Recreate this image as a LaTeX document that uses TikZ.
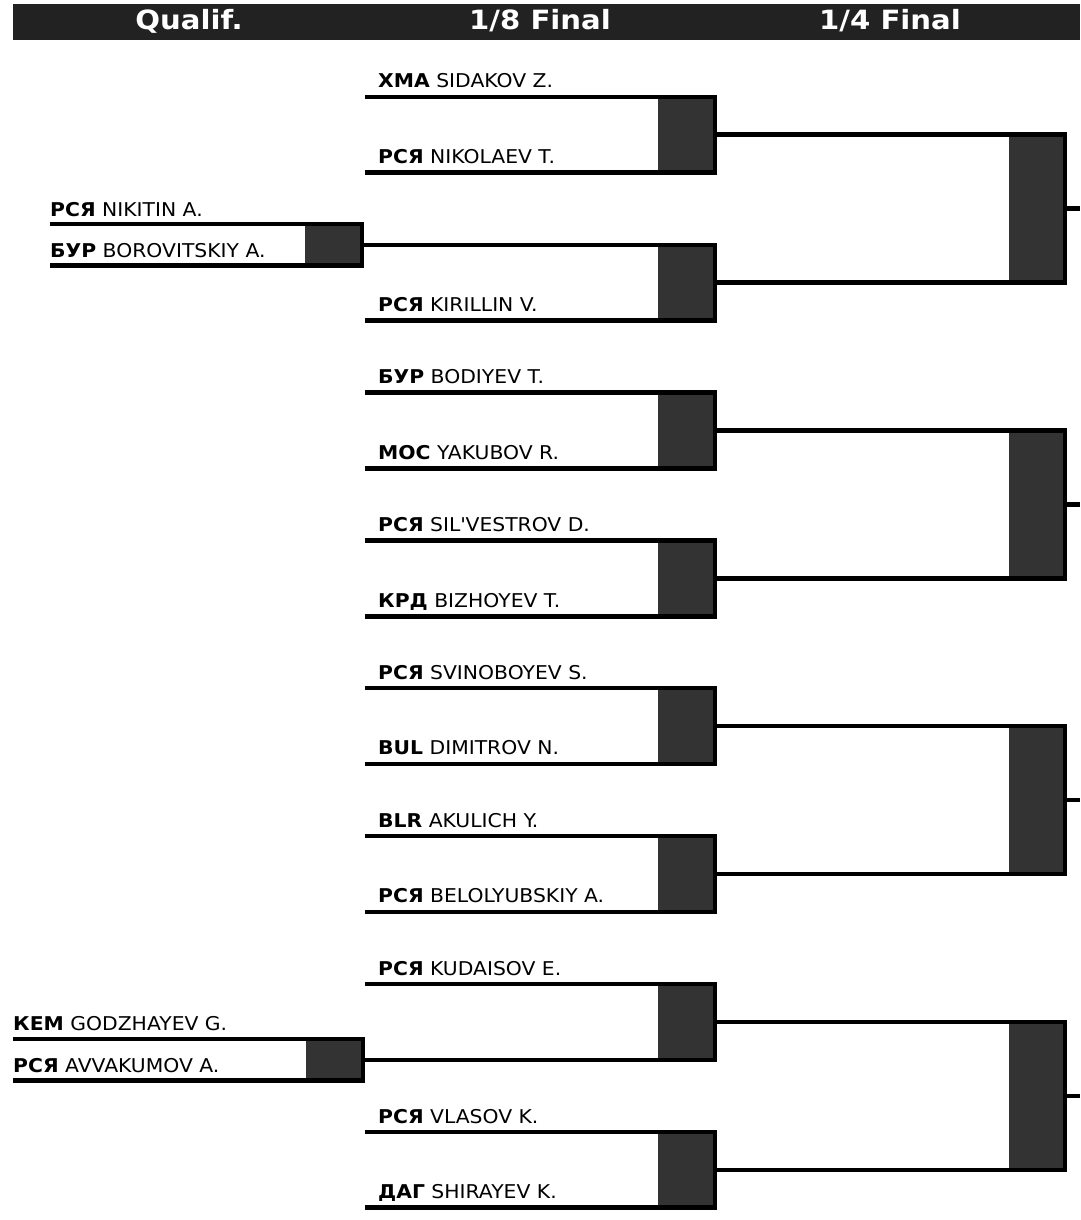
\documentclass[tikz,border=0pt]{standalone}
\usepackage{fontspec}
\newfontfamily\brfont{DejaVu Sans}[FakeStretch=1.07]
\newfontfamily\hdfont{DejaVu Sans}[FakeStretch=1.1]
\definecolor{barcol}{HTML}{222222}
\definecolor{boxcol}{HTML}{333333}

\begin{document}
\begin{tikzpicture}[x=1pt,y=-1pt,
bar/.style={fill=barcol,inner sep=0,minimum width=1067pt,minimum height=36pt},
hdr/.style={anchor=base,inner sep=0,text=white,font=\hdfont\bfseries\fontsize{26.5}{26.5}\selectfont},
nm/.style={anchor=base west,inner sep=0,font=\brfont\fontsize{19}{19}\selectfont},
mbox/.style={fill=boxcol,inner sep=0,minimum width=57pt,minimum height=75.5pt},
kbox/.style={fill=boxcol,inner sep=0,minimum width=56pt,minimum height=147.86pt},
qbox/.style={fill=boxcol,inner sep=0,minimum width=57pt,minimum height=41pt},
br/.style={line width=4.5pt}]
\useasboundingbox (0,0) rectangle (1080,1220);
% header
\node[bar] (hbar) at (546.5,22) {};
\node[hdr] (hq) at (189,30) {Qualif.};
\node[hdr] (h8) at (540,30) {1/8 Final};
\node[hdr] (h4) at (890,30) {1/4 Final};
\coordinate (cq1) at (50,0);
\coordinate (cq2) at (13,0);
\coordinate (c8) at (365,0);
\coordinate (c4) at (1080,0);
% boxes
\node[qbox] (ql1) at (333.5,244.85) {};
\node[qbox] (ql2) at (334.5,1059.7) {};
\node[mbox] (e1) at (686.5,134.75) {};
\node[mbox] (e2) at (686.5,282.6) {};
\node[mbox] (e3) at (686.5,430.45) {};
\node[mbox] (e4) at (686.5,578.35) {};
\node[mbox] (e5) at (686.5,726.15) {};
\node[mbox] (e6) at (686.5,874.05) {};
\node[mbox] (e7) at (686.5,1021.95) {};
\node[mbox] (e8) at (686.5,1169.75) {};
\node[kbox] (k1) at (1037,208.7) {};
\node[kbox] (k2) at (1037,504.4) {};
\node[kbox] (k3) at (1037,800.1) {};
\node[kbox] (k4) at (1037,1095.85) {};
% names
\node[nm] (nq1a) at (50,216) {\textbf{РСЯ} NIKITIN A.};
\node[nm] (nq1b) at (50,257) {\textbf{БУР} BOROVITSKIY A.};
\node[nm] (nq2a) at (13,1030) {\textbf{КЕМ} GODZHAYEV G.};
\node[nm] (nq2b) at (13,1072) {\textbf{РСЯ} AVVAKUMOV A.};
\node[nm] (n1a) at (378,88) {\textbf{ХМА} SIDAKOV Z.};
\node[nm] (n1b) at (378,163.5) {\textbf{РСЯ} NIKOLAEV T.};
\node[nm] (n2b) at (378,311.4) {\textbf{РСЯ} KIRILLIN V.};
\node[nm] (n3a) at (378,383.7) {\textbf{БУР} BODIYEV T.};
\node[nm] (n3b) at (378,459.2) {\textbf{МОС} YAKUBOV R.};
\node[nm] (n4a) at (378,531.6) {\textbf{РСЯ} SIL\textquotesingle VESTROV D.};
\node[nm] (n4b) at (378,607.1) {\textbf{КРД} BIZHOYEV T.};
\node[nm] (n5a) at (378,679.4) {\textbf{РСЯ} SVINOBOYEV S.};
\node[nm] (n5b) at (378,754.9) {\textbf{BUL} DIMITROV N.};
\node[nm] (n6a) at (378,827.3) {\textbf{BLR} AKULICH Y.};
\node[nm] (n6b) at (378,902.8) {\textbf{РСЯ} BELOLYUBSKIY A.};
\node[nm] (n7a) at (378,975.2) {\textbf{РСЯ} KUDAISOV E.};
\node[nm] (n8a) at (378,1123) {\textbf{РСЯ} VLASOV K.};
\node[nm] (n8b) at (378,1198.5) {\textbf{ДАГ} SHIRAYEV K.};
% qualif.
\draw[br] (cq1 |- ql1.north) -- (ql1.north east) -- (ql1.south east) -- (cq1 |- ql1.south);
\draw[br] (cq2 |- ql2.north) -- (ql2.north east) -- (ql2.south east) -- (cq2 |- ql2.south);
% 1/8 final
\draw[br] (c8 |- e1.north) -- (e1.north east) -- (e1.south east) -- (c8 |- e1.south);
\draw[br] (ql1.east) -- (ql1.east -| e2.east) -- (e2.south east) -- (c8 |- e2.south);
\draw[br] (c8 |- e3.north) -- (e3.north east) -- (e3.south east) -- (c8 |- e3.south);
\draw[br] (c8 |- e4.north) -- (e4.north east) -- (e4.south east) -- (c8 |- e4.south);
\draw[br] (c8 |- e5.north) -- (e5.north east) -- (e5.south east) -- (c8 |- e5.south);
\draw[br] (c8 |- e6.north) -- (e6.north east) -- (e6.south east) -- (c8 |- e6.south);
\draw[br] (c8 |- e7.north) -- (e7.north east) -- (e7.south east) -- (e7.south east -| ql2.east);
\draw[br] (c8 |- e8.north) -- (e8.north east) -- (e8.south east) -- (c8 |- e8.south);
% 1/4 final
\draw[br] (e1.east) -- (e1.east -| k1.east) -- (e2.east -| k1.east) -- (e2.east);
\draw[br] (e3.east) -- (e3.east -| k2.east) -- (e4.east -| k2.east) -- (e4.east);
\draw[br] (e5.east) -- (e5.east -| k3.east) -- (e6.east -| k3.east) -- (e6.east);
\draw[br] (e7.east) -- (e7.east -| k4.east) -- (e8.east -| k4.east) -- (e8.east);
\draw[br] (k1.east) -- (c4 |- k1.east);
\draw[br] (k2.east) -- (c4 |- k2.east);
\draw[br] (k3.east) -- (c4 |- k3.east);
\draw[br] (k4.east) -- (c4 |- k4.east);
\end{tikzpicture}
\end{document}
